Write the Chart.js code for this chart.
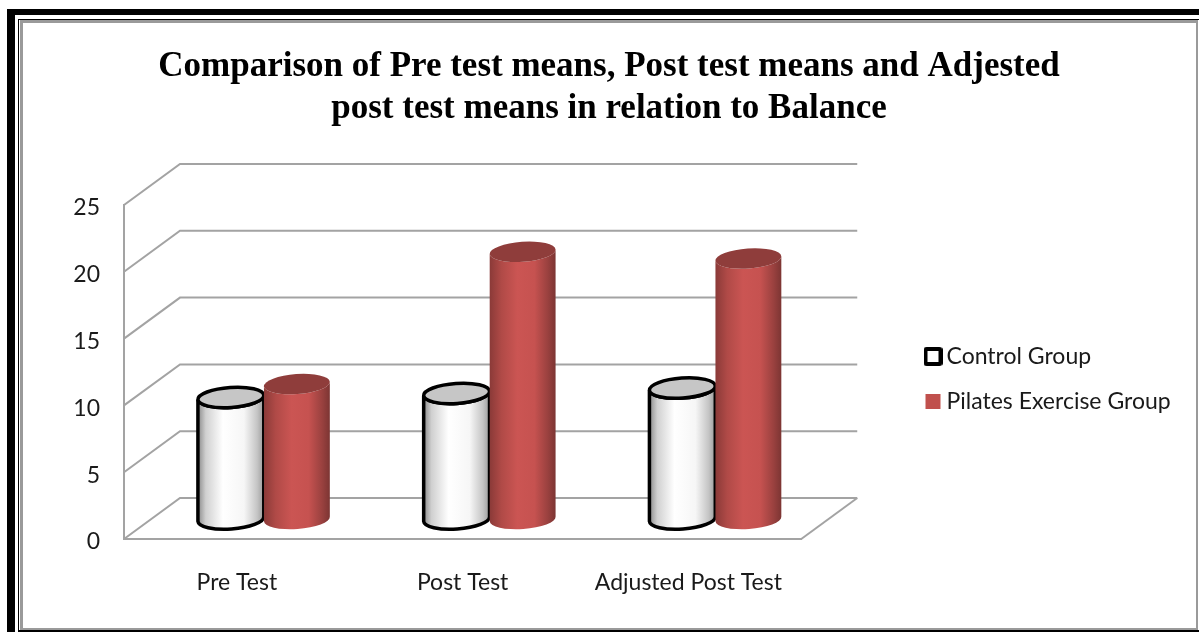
<!DOCTYPE html>
<html><head><meta charset="utf-8">
<style>html,body{margin:0;padding:0;background:#fff}canvas{display:block}</style>
<script src="https://cdn.jsdelivr.net/npm/chart.js@4/dist/chart.umd.min.js"></script>
</head><body><canvas id="c" width="1199" height="632"></canvas>
<script>
const categories = ['Pre Test','Post Test','Adjusted Post Test'];
const controlGroup = [9.1, 9.4, 9.8];
const pilatesGroup = [10.1, 20.0, 19.5];
const titleLines = ['Comparison of Pre test means, Post test means and Adjested','post test means in relation to Balance'];
const seriesNames = ['Control Group','Pilates Exercise Group'];
const gridColor = '#a3a3a3';

function marker(kind){
  const m=document.createElement('canvas');m.width=19;m.height=19;
  const g=m.getContext('2d');
  if(kind===0){g.fillStyle='#000';g.beginPath();g.roundRect(0,0,19,19,3);g.fill();g.fillStyle='#fff';g.fillRect(4,4,11,11);}
  else{g.fillStyle='#c0504d';g.fillRect(2,2,15,15);}
  return m;
}
const DX=27,DY=-20,RY=10,TILT=-0.07;
function cyl(ctx,x,top,base,w,white){
  const rx=w/2;
  const l=x-rx,r=x+rx;
  const grad=ctx.createLinearGradient(l,0,r,0);
  if(white){
    grad.addColorStop(0,'#8a8a8a');grad.addColorStop(.12,'#d0d0d0');grad.addColorStop(.38,'#ffffff');
    grad.addColorStop(.7,'#f6f6f6');grad.addColorStop(.9,'#c4c4c4');grad.addColorStop(1,'#9a9a9a');
  }else{
    grad.addColorStop(0,'#8a3a38');grad.addColorStop(.18,'#b04a47');grad.addColorStop(.42,'#cb5553');
    grad.addColorStop(.68,'#c65250');grad.addColorStop(.88,'#9a413f');grad.addColorStop(1,'#7c3533');
  }
  const dy=rx*Math.sin(TILT),dx=rx*Math.cos(TILT);
  ctx.save();
  ctx.beginPath();
  ctx.moveTo(x-dx,top-dy);
  ctx.lineTo(x-dx,base-dy);
  ctx.ellipse(x,base,rx,RY,TILT,Math.PI,0,true);
  ctx.lineTo(x+dx,top+dy);
  ctx.ellipse(x,top,rx,RY,TILT,0,Math.PI,false);
  ctx.closePath();
  ctx.fillStyle=grad;ctx.fill();
  if(white){ctx.strokeStyle='#000';ctx.lineWidth=3.5;ctx.stroke();}
  ctx.beginPath();
  ctx.ellipse(x,top,rx,RY,TILT,0,Math.PI*2);
  ctx.fillStyle=white?'#c6c6c6':'#8f3d3b';ctx.fill();
  if(white){ctx.strokeStyle='#000';ctx.lineWidth=3.5;ctx.stroke();}
  ctx.restore();
}
const scene={
  id:'scene',
  beforeDraw(chart){
    const ctx=chart.ctx;
    ctx.save();
    ctx.fillStyle='#fff';ctx.fillRect(0,0,chart.width,chart.height);
    ctx.fillStyle='#000';
    ctx.fillRect(7,9,1192,6);ctx.fillRect(7,9,8,623);
    ctx.fillRect(18,19,1181,1);ctx.fillRect(18,19,1,613);
    ctx.fillRect(18,630,1181,2);
    ctx.fillStyle='#9a9a9a';
    ctx.fillRect(20,20,3,610);ctx.fillRect(20,20,1177,3);
    ctx.fillRect(1196,20,2,610);ctx.fillRect(20,628,1177,2);
    ctx.restore();
    chart.titleBlock.left=0;chart.titleBlock.right=1218;
    const lg=chart.legend,pad=lg.options.labels.padding;
    lg.left=931-pad;lg.right=1199;
    lg.top=345-pad;lg.bottom=632;
  },
  beforeDatasetsDraw(chart){
    const ctx=chart.ctx,y=chart.scales.y,ca=chart.chartArea;
    const bx=56,by=-41;
    ctx.save();
    ctx.strokeStyle=gridColor;ctx.lineWidth=2;
    y.ticks.forEach(t=>{
      const p=y.getPixelForValue(t.value);
      ctx.beginPath();ctx.moveTo(ca.left,p);ctx.lineTo(ca.left+bx,p+by);ctx.lineTo(ca.right+bx,p+by);ctx.stroke();
    });
    ctx.beginPath();ctx.moveTo(ca.right,ca.bottom);ctx.lineTo(ca.right+bx,ca.bottom+by);ctx.stroke();
    ctx.restore();
    [0,1].forEach(i=>{
      chart.getDatasetMeta(i).data.forEach(el=>{
        const p=el.getProps(['x','y','base','width'],true);
        cyl(ctx,p.x+DX,p.y+DY,p.base+DY,p.width,i===0);
      });
    });
    return false;
  }
};
const chart=new Chart(document.getElementById('c'),{
  type:'bar',
  data:{labels:categories,datasets:[
    {label:seriesNames[0],data:controlGroup,backgroundColor:'#ffffff',borderColor:'#000000'},
    {label:seriesNames[1],data:pilatesGroup,backgroundColor:'#c0504d'}
  ]},
  options:{
    responsive:false,animation:false,
    layout:{padding:{left:50,right:0,top:0,bottom:30}},
    datasets:{bar:{categoryPercentage:0.585,barPercentage:1}},
    plugins:{
      tooltip:{enabled:false},
      title:{display:true,text:titleLines,color:'#000',align:'center',
        font:{family:'"Liberation Serif"',size:35,weight:'bold',lineHeight:1.2},
        padding:{top:46,bottom:60}},
      legend:{position:'right',align:'start',
        labels:{color:'#1a1a1a',font:{family:'Lato',size:23},padding:22,boxWidth:4,boxHeight:4,usePointStyle:true,
          generateLabels(c){return c.data.datasets.map((d,i)=>({text:d.label,datasetIndex:i,pointStyle:marker(i),fontColor:'#1a1a1a',lineWidth:0,hidden:false}));}
        }}
    },
    scales:{
      x:{grid:{display:false,drawTicks:false,tickLength:0},border:{display:true,color:gridColor,width:2},
        ticks:{color:'#1a1a1a',font:{family:'Lato',size:23},padding:30,maxRotation:0,autoSkip:false}},
      y:{min:0,max:25,grid:{display:false,drawTicks:false,tickLength:0},border:{display:true,color:gridColor,width:2},
        ticks:{stepSize:5,color:'#1a1a1a',font:{family:'Lato',size:23},padding:24,labelOffset:3}}
    }
  },
  plugins:[scene]
});
for(let i=0;i<4;i++){
  const ca=chart.chartArea,p=chart.options.layout.padding,t=chart.options.plugins.title.padding;
  p.left+=124-ca.left;p.right+=ca.right-801;p.bottom+=ca.bottom-539;t.bottom+=205-ca.top;
  chart.update();
}
</script></body></html>
